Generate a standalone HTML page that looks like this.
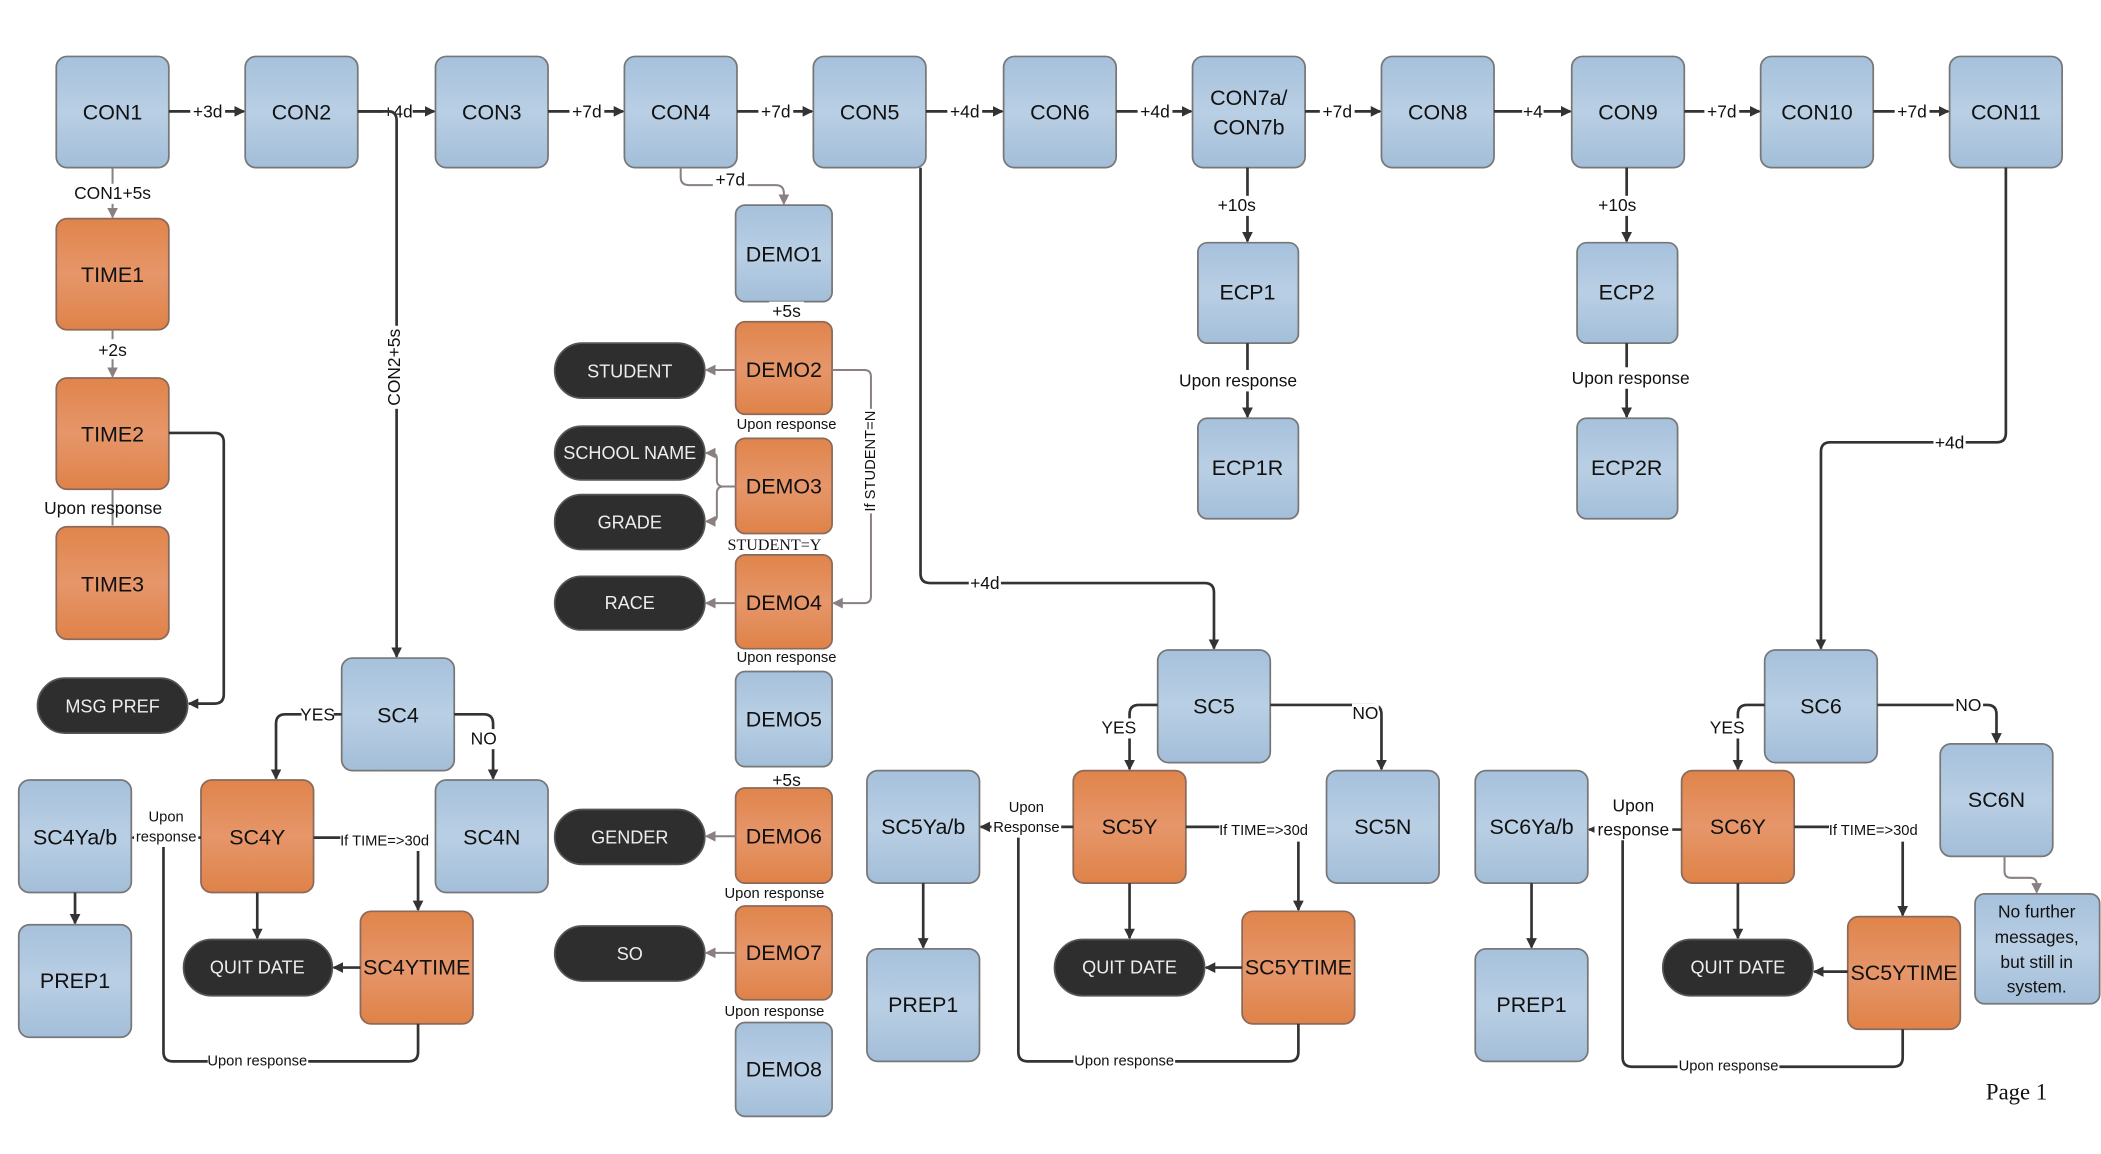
<!DOCTYPE html>
<html><head><meta charset="utf-8"><style>
html,body{margin:0;padding:0;background:#fff;}
svg{display:block;}
text{font-family:"Liberation Sans",sans-serif;}
</style></head><body>
<svg width="2101" height="1154" viewBox="0 0 1568 861" xmlns="http://www.w3.org/2000/svg">
<defs>
<linearGradient id="gb" x1="0" y1="0" x2="0" y2="1"><stop offset="0" stop-color="#a6c1dc"/><stop offset="0.5" stop-color="#b9cfe4"/><stop offset="1" stop-color="#a3bed9"/></linearGradient>
<linearGradient id="go" x1="0" y1="0" x2="0" y2="1"><stop offset="0" stop-color="#e0844b"/><stop offset="0.5" stop-color="#e6966a"/><stop offset="1" stop-color="#df8248"/></linearGradient>
<marker id="a" markerWidth="8" markerHeight="8" refX="7" refY="4" orient="auto" markerUnits="userSpaceOnUse"><path d="M0,0 L8,4 L0,8 z" fill="#333"/></marker>
<marker id="g" markerWidth="8" markerHeight="8" refX="7" refY="4" orient="auto" markerUnits="userSpaceOnUse"><path d="M0,0 L8,4 L0,8 z" fill="#8a8080"/></marker>
</defs>
<style>
.b{fill:url(#gb);stroke:#777;stroke-width:1.3}
.o{fill:url(#go);stroke:#8a6a5a;stroke-width:1.3}
.p{fill:#2e2e2e;stroke:#555;stroke-width:1.3}
.t{font-size:16px;text-anchor:middle;dominant-baseline:central;fill:#111}
.w{font-size:13.5px;text-anchor:middle;dominant-baseline:central;fill:#eee}
.l{font-size:13px;text-anchor:middle;dominant-baseline:central;fill:#111}
.s{font-size:11px;text-anchor:middle;dominant-baseline:central;fill:#111}
.k{fill:none;stroke:#333;stroke-width:2}
.gr{fill:none;stroke:#8a8080;stroke-width:1.5}
.lb{fill:#fff}
</style>

<!-- top row -->
<g>
<rect class="b" x="42" y="42" width="84" height="83" rx="8"/><text class="t" x="84" y="84">CON1</text>
<rect class="b" x="183" y="42" width="84" height="83" rx="8"/><text class="t" x="225" y="84">CON2</text>
<rect class="b" x="325" y="42" width="84" height="83" rx="8"/><text class="t" x="367" y="84">CON3</text>
<rect class="b" x="466" y="42" width="84" height="83" rx="8"/><text class="t" x="508" y="84">CON4</text>
<rect class="b" x="607" y="42" width="84" height="83" rx="8"/><text class="t" x="649" y="84">CON5</text>
<rect class="b" x="749" y="42" width="84" height="83" rx="8"/><text class="t" x="791" y="84">CON6</text>
<rect class="b" x="890" y="42" width="84" height="83" rx="8"/><text class="t" x="932" y="73">CON7a/</text><text class="t" x="932" y="95">CON7b</text>
<rect class="b" x="1031" y="42" width="84" height="83" rx="8"/><text class="t" x="1073" y="84">CON8</text>
<rect class="b" x="1173" y="42" width="84" height="83" rx="8"/><text class="t" x="1215" y="84">CON9</text>
<rect class="b" x="1314" y="42" width="84" height="83" rx="8"/><text class="t" x="1356" y="84">CON10</text>
<rect class="b" x="1455" y="42" width="84" height="83" rx="8"/><text class="t" x="1497" y="84">CON11</text>
</g>
<g>
<line class="k" x1="126" y1="83" x2="182" y2="83" marker-end="url(#a)"/><rect class="lb" x="142" y="75" width="26" height="16"/><text class="l" x="155" y="83">+3d</text>
<line class="k" x1="267" y1="83" x2="324" y2="83" marker-end="url(#a)"/><rect class="lb" x="286" y="75" width="22" height="16"/><text class="l" x="297" y="83">+4d</text>
<line class="k" x1="409" y1="83" x2="465" y2="83" marker-end="url(#a)"/><rect class="lb" x="425" y="75" width="26" height="16"/><text class="l" x="438" y="83">+7d</text>
<line class="k" x1="550" y1="83" x2="606" y2="83" marker-end="url(#a)"/><rect class="lb" x="566" y="75" width="26" height="16"/><text class="l" x="579" y="83">+7d</text>
<line class="k" x1="691" y1="83" x2="748" y2="83" marker-end="url(#a)"/><rect class="lb" x="707" y="75" width="26" height="16"/><text class="l" x="720" y="83">+4d</text>
<line class="k" x1="833" y1="83" x2="889" y2="83" marker-end="url(#a)"/><rect class="lb" x="849" y="75" width="26" height="16"/><text class="l" x="862" y="83">+4d</text>
<line class="k" x1="974" y1="83" x2="1030" y2="83" marker-end="url(#a)"/><rect class="lb" x="985" y="75" width="26" height="16"/><text class="l" x="998" y="83">+7d</text>
<line class="k" x1="1115" y1="83" x2="1172" y2="83" marker-end="url(#a)"/><rect class="lb" x="1136" y="75" width="16" height="16"/><text class="l" x="1144" y="83">+4</text>
<line class="k" x1="1257" y1="83" x2="1313" y2="83" marker-end="url(#a)"/><rect class="lb" x="1272" y="75" width="26" height="16"/><text class="l" x="1285" y="83">+7d</text>
<line class="k" x1="1398" y1="83" x2="1454" y2="83" marker-end="url(#a)"/><rect class="lb" x="1414" y="75" width="26" height="16"/><text class="l" x="1427" y="83">+7d</text>
</g>

<!-- left column -->
<line class="gr" x1="84" y1="125" x2="84" y2="162" marker-end="url(#g)"/><rect class="lb" x="54" y="137" width="60" height="15"/><text class="l" x="84" y="144">CON1+5s</text>
<rect class="o" x="42" y="163" width="84" height="83" rx="8"/><text class="t" x="84" y="205">TIME1</text>
<line class="gr" x1="84" y1="246" x2="84" y2="281" marker-end="url(#g)"/><rect class="lb" x="70" y="253" width="28" height="15"/><text class="l" x="84" y="261">+2s</text>
<rect class="o" x="42" y="282" width="84" height="83" rx="8"/><text class="t" x="84" y="324">TIME2</text>
<line class="gr" x1="84" y1="365" x2="84" y2="392"/><text class="l" x="77" y="379">Upon response</text>
<rect class="o" x="42" y="393" width="84" height="84" rx="8"/><text class="t" x="84" y="436">TIME3</text>
<path class="k" d="M126,323 H160 Q167,323 167,330 V518 Q167,525 160,525 H141" marker-end="url(#a)"/>
<rect class="p" x="28" y="506" width="112" height="41" rx="20.5"/><text class="w" x="84" y="527">MSG PREF</text>

<!-- CON2 -> SC4 -->
<path class="k" d="M267,83 H290 Q296,83 296,90 V490" marker-end="url(#a)"/>
<rect class="lb" x="287" y="243" width="16" height="62"/>
<text class="l" transform="translate(294,274) rotate(-90)" x="0" y="0">CON2+5s</text>

<rect class="b" x="255" y="491" width="84" height="84" rx="8"/><text class="t" x="297" y="534">SC4</text>
<path class="k" d="M255,533 H213 Q206,533 206,540 V581" marker-end="url(#a)"/><rect class="lb" x="225" y="526" width="24" height="15"/><text class="l" x="237" y="533">YES</text>
<path class="k" d="M339,533 H361 Q368,533 368,540 V581" marker-end="url(#a)"/><rect class="lb" x="351" y="544" width="20" height="15"/><text class="l" x="361" y="551">NO</text>
<rect class="o" x="150" y="582" width="84" height="84" rx="8"/><text class="t" x="192" y="625">SC4Y</text>
<rect class="b" x="325" y="582" width="84" height="84" rx="8"/><text class="t" x="367" y="625">SC4N</text>
<rect class="b" x="14" y="582" width="84" height="84" rx="8"/><text class="t" x="56" y="625">SC4Ya/b</text>
<line class="k" x1="56" y1="666" x2="56" y2="689" marker-end="url(#a)"/>
<rect class="b" x="14" y="690" width="84" height="84" rx="8"/><text class="t" x="56" y="732">PREP1</text>
<line class="k" x1="150" y1="625" x2="99" y2="625" marker-end="url(#a)"/>
<rect class="lb" x="100" y="602" width="48" height="30"/><text class="s" x="124" y="610">Upon</text><text class="s" x="124" y="625">response</text>
<line class="k" x1="192" y1="666" x2="192" y2="700" marker-end="url(#a)"/>
<rect class="p" x="137" y="701" width="111" height="42" rx="21"/><text class="w" x="192" y="722">QUIT DATE</text>
<path class="k" d="M234,625 H312 V679" marker-end="url(#a)"/><rect class="lb" x="254" y="620" width="66" height="15"/><text class="s" x="287" y="628">If TIME=&gt;30d</text>
<rect class="o" x="269" y="680" width="84" height="84" rx="8"/><text class="t" x="311" y="722">SC4YTIME</text>
<line class="k" x1="269" y1="722" x2="249" y2="722" marker-end="url(#a)"/>
<path class="k" d="M312,764 V785 Q312,792 305,792 H129 Q122,792 122,785 V632"/>
<rect class="lb" x="155" y="785" width="75" height="14"/><text class="s" x="192" y="792">Upon response</text>

<!-- DEMO column -->
<path class="gr" d="M508,125 V132 Q508,138 514,138 H579 Q585,138 585,144 V152" marker-end="url(#g)"/><rect class="lb" x="532" y="127" width="26" height="15"/><text class="l" x="545" y="134">+7d</text>
<rect class="b" x="549" y="153" width="72" height="72" rx="7"/><text class="t" x="585" y="190">DEMO1</text>
<rect class="lb" x="574" y="225" width="26" height="14"/><text class="l" x="587" y="232">+5s</text>
<rect class="o" x="549" y="240" width="72" height="69" rx="7"/><text class="t" x="585" y="276">DEMO2</text>
<rect class="p" x="414" y="256" width="112" height="41" rx="20.5"/><text class="w" x="470" y="277">STUDENT</text>
<line class="gr" x1="549" y1="276" x2="527" y2="276" marker-end="url(#g)"/>
<text class="s" x="587" y="317">Upon response</text>
<rect class="o" x="549" y="327" width="72" height="71" rx="7"/><text class="t" x="585" y="363">DEMO3</text>
<rect class="p" x="414" y="318" width="112" height="40" rx="20"/><text class="w" x="470" y="338">SCHOOL NAME</text>
<rect class="p" x="414" y="369" width="112" height="41" rx="20"/><text class="w" x="470" y="390">GRADE</text>
<path class="gr" d="M549,363 H540 Q535,363 535,358 V342 Q535,338 530,338 H527" marker-end="url(#g)"/>
<path class="gr" d="M549,363 H540 Q535,363 535,368 V385 Q535,389 530,389 H527" marker-end="url(#g)"/>
<text class="s" x="578" y="407" style="font-family:'Liberation Serif',serif;font-size:12px">STUDENT=Y</text>
<rect class="o" x="549" y="414" width="72" height="70" rx="7"/><text class="t" x="585" y="450">DEMO4</text>
<rect class="p" x="414" y="430" width="112" height="40" rx="20"/><text class="w" x="470" y="450">RACE</text>
<line class="gr" x1="549" y1="450" x2="527" y2="450" marker-end="url(#g)"/>
<path class="gr" d="M621,276 H645 Q650,276 650,281 V445 Q650,450 645,450 H622" marker-end="url(#g)"/>
<rect class="lb" x="643" y="305" width="14" height="78"/><text class="s" transform="translate(650,344) rotate(-90)" x="0" y="0">If STUDENT=N</text>
<text class="s" x="587" y="491">Upon response</text>
<rect class="b" x="549" y="501" width="72" height="71" rx="7"/><text class="t" x="585" y="537">DEMO5</text>
<rect class="lb" x="574" y="575" width="26" height="14"/><text class="l" x="587" y="582">+5s</text>
<rect class="o" x="549" y="588" width="72" height="71" rx="7"/><text class="t" x="585" y="624">DEMO6</text>
<rect class="p" x="414" y="604" width="112" height="41" rx="20.5"/><text class="w" x="470" y="625">GENDER</text>
<line class="gr" x1="549" y1="624" x2="527" y2="624" marker-end="url(#g)"/>
<text class="s" x="578" y="667">Upon response</text>
<rect class="o" x="549" y="676" width="72" height="70" rx="7"/><text class="t" x="585" y="711">DEMO7</text>
<rect class="p" x="414" y="691" width="112" height="41" rx="20.5"/><text class="w" x="470" y="712">SO</text>
<line class="gr" x1="549" y1="711" x2="527" y2="711" marker-end="url(#g)"/>
<text class="s" x="578" y="755">Upon response</text>
<rect class="b" x="549" y="763" width="72" height="70" rx="7"/><text class="t" x="585" y="798">DEMO8</text>

<!-- CON5 -> SC5 -->
<path class="k" d="M687,125 V428 Q687,435 694,435 H899 Q906,435 906,442 V484" marker-end="url(#a)"/>
<rect class="lb" x="723" y="428" width="24" height="15"/><text class="l" x="735" y="435">+4d</text>
<rect class="b" x="864" y="485" width="84" height="84" rx="8"/><text class="t" x="906" y="527">SC5</text>
<path class="k" d="M864,526 H850 Q843,526 843,533 V574" marker-end="url(#a)"/><rect class="lb" x="823" y="536" width="24" height="15"/><text class="l" x="835" y="543">YES</text>
<path class="k" d="M948,526 H1024 Q1031,526 1031,533 V574" marker-end="url(#a)"/><rect class="lb" x="1009" y="525" width="20" height="15"/><text class="l" x="1019" y="532">NO</text>
<rect class="o" x="801" y="575" width="84" height="84" rx="8"/><text class="t" x="843" y="617">SC5Y</text>
<rect class="b" x="990" y="575" width="84" height="84" rx="8"/><text class="t" x="1032" y="617">SC5N</text>
<rect class="b" x="647" y="575" width="84" height="84" rx="8"/><text class="t" x="689" y="617">SC5Ya/b</text>
<line class="k" x1="689" y1="659" x2="689" y2="707" marker-end="url(#a)"/>
<rect class="b" x="647" y="708" width="84" height="84" rx="8"/><text class="t" x="689" y="750">PREP1</text>
<line class="k" x1="801" y1="617" x2="732" y2="617" marker-end="url(#a)"/>
<rect class="lb" x="740" y="597" width="52" height="28"/><text class="s" x="766" y="603">Upon</text><text class="s" x="766" y="618">Response</text>
<line class="k" x1="843" y1="659" x2="843" y2="700" marker-end="url(#a)"/>
<rect class="p" x="787" y="701" width="112" height="42" rx="21"/><text class="w" x="843" y="722">QUIT DATE</text>
<path class="k" d="M885,617 H969 V679" marker-end="url(#a)"/><rect class="lb" x="910" y="613" width="66" height="15"/><text class="s" x="943" y="620">If TIME=&gt;30d</text>
<rect class="o" x="927" y="680" width="84" height="84" rx="8"/><text class="t" x="969" y="722">SC5YTIME</text>
<line class="k" x1="927" y1="722" x2="900" y2="722" marker-end="url(#a)"/>
<path class="k" d="M969,764 V785 Q969,792 962,792 H767 Q760,792 760,785 V625"/>
<rect class="lb" x="801" y="785" width="76" height="14"/><text class="s" x="839" y="792">Upon response</text>

<!-- ECP -->
<line class="k" x1="931" y1="125" x2="931" y2="180" marker-end="url(#a)"/><rect class="lb" x="908" y="146" width="30" height="15"/><text class="l" x="923" y="153">+10s</text>
<rect class="b" x="894" y="181" width="75" height="75" rx="7"/><text class="t" x="931" y="218">ECP1</text>
<line class="k" x1="931" y1="256" x2="931" y2="311" marker-end="url(#a)"/><rect class="lb" x="876" y="276" width="96" height="16"/><text class="l" x="924" y="284">Upon response</text>
<rect class="b" x="894" y="312" width="75" height="75" rx="7"/><text class="t" x="931" y="349">ECP1R</text>
<line class="k" x1="1214" y1="125" x2="1214" y2="180" marker-end="url(#a)"/><rect class="lb" x="1192" y="146" width="30" height="15"/><text class="l" x="1207" y="153">+10s</text>
<rect class="b" x="1177" y="181" width="75" height="75" rx="7"/><text class="t" x="1214" y="218">ECP2</text>
<line class="k" x1="1214" y1="256" x2="1214" y2="311" marker-end="url(#a)"/><rect class="lb" x="1169" y="274" width="96" height="16"/><text class="l" x="1217" y="282">Upon response</text>
<rect class="b" x="1177" y="312" width="75" height="75" rx="7"/><text class="t" x="1214" y="349">ECP2R</text>

<!-- CON11 -> SC6 -->
<path class="k" d="M1497,125 V323 Q1497,330 1490,330 H1366 Q1359,330 1359,337 V484" marker-end="url(#a)"/>
<rect class="lb" x="1443" y="323" width="24" height="15"/><text class="l" x="1455" y="330">+4d</text>
<rect class="b" x="1317" y="485" width="84" height="84" rx="8"/><text class="t" x="1359" y="527">SC6</text>
<path class="k" d="M1317,526 H1304 Q1297,526 1297,533 V574" marker-end="url(#a)"/><rect class="lb" x="1277" y="536" width="24" height="15"/><text class="l" x="1289" y="543">YES</text>
<path class="k" d="M1401,526 H1483 Q1490,526 1490,533 V554" marker-end="url(#a)"/><rect class="lb" x="1458" y="519" width="22" height="15"/><text class="l" x="1469" y="526">NO</text>
<rect class="o" x="1255" y="575" width="84" height="84" rx="8"/><text class="t" x="1297" y="617">SC6Y</text>
<rect class="b" x="1448" y="555" width="84" height="84" rx="8"/><text class="t" x="1490" y="597">SC6N</text>
<path class="gr" d="M1496,639 V650 Q1496,655 1501,655 H1515 Q1520,655 1520,660 V666" marker-end="url(#g)"/>
<rect class="b" x="1474" y="667" width="93" height="82" rx="7"/>
<text class="l" x="1520" y="680">No further</text><text class="l" x="1520" y="699">messages,</text><text class="l" x="1520" y="718">but still in</text><text class="l" x="1520" y="736">system.</text>
<rect class="b" x="1101" y="575" width="84" height="84" rx="8"/><text class="t" x="1143" y="617">SC6Ya/b</text>
<line class="k" x1="1143" y1="659" x2="1143" y2="707" marker-end="url(#a)"/>
<rect class="b" x="1101" y="708" width="84" height="84" rx="8"/><text class="t" x="1143" y="750">PREP1</text>
<line class="k" x1="1255" y1="619" x2="1186" y2="619" marker-end="url(#a)"/>
<rect class="lb" x="1190" y="592" width="58" height="34"/><text class="l" x="1219" y="601">Upon</text><text class="l" x="1219" y="619">response</text>
<line class="k" x1="1297" y1="659" x2="1297" y2="700" marker-end="url(#a)"/>
<rect class="p" x="1241" y="701" width="112" height="42" rx="21"/><text class="w" x="1297" y="722">QUIT DATE</text>
<path class="k" d="M1339,617 H1420 V683" marker-end="url(#a)"/><rect class="lb" x="1365" y="613" width="66" height="15"/><text class="s" x="1398" y="620">If TIME=&gt;30d</text>
<rect class="o" x="1379" y="684" width="84" height="84" rx="8"/><text class="t" x="1421" y="726">SC5YTIME</text>
<line class="k" x1="1379" y1="725" x2="1354" y2="725" marker-end="url(#a)"/>
<path class="k" d="M1420,768 V789 Q1420,796 1413,796 H1218 Q1211,796 1211,789 V627"/>
<rect class="lb" x="1252" y="789" width="76" height="14"/><text class="s" x="1290" y="796">Upon response</text>

<text x="1505" y="815" style="font-family:'Liberation Serif',serif;font-size:17px;text-anchor:middle;dominant-baseline:central;fill:#111">Page 1</text>
</svg>
</body></html>
